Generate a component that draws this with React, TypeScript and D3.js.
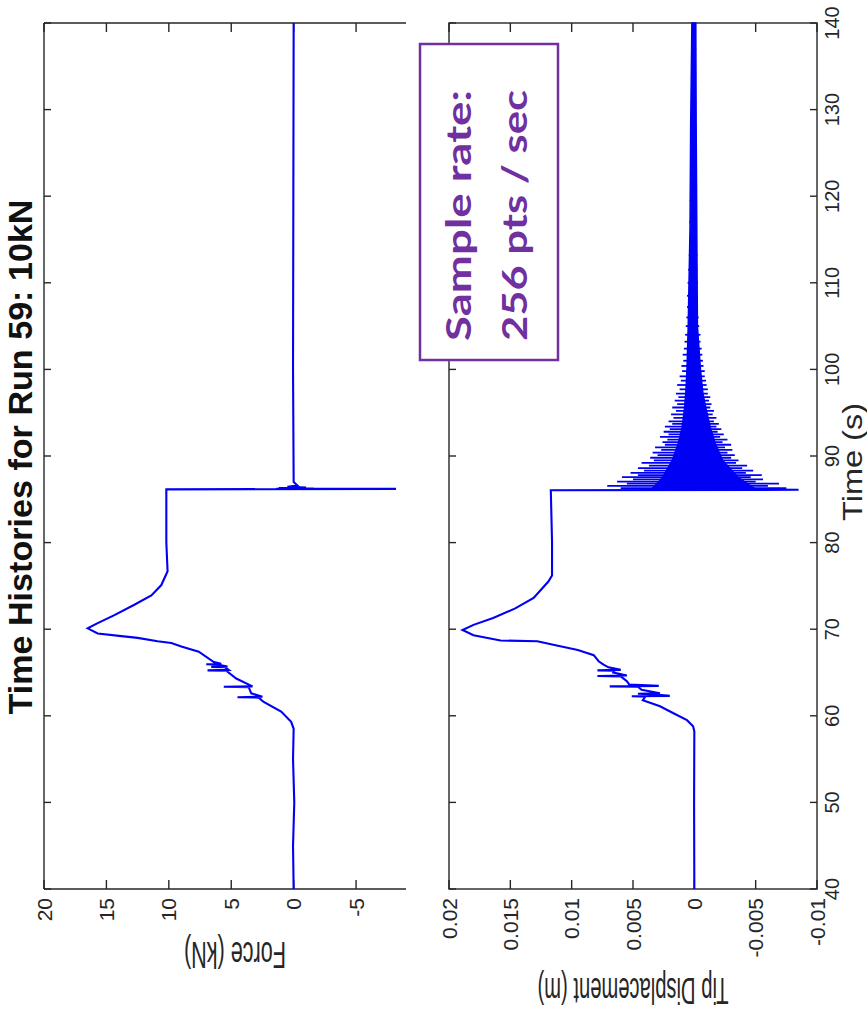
import React from 'react';
import * as d3 from 'd3';

// page size of the (rotated) figure
const W = 867;
const H = 1021;

// tick values
const timeTicks = [40, 50, 60, 70, 80, 90, 100, 110, 120, 130, 140];
const forceTicks = [-5, 0, 5, 10, 15, 20];
const dispTicks = [-0.01, -0.005, 0, 0.005, 0.01, 0.015, 0.02];
const dispTickLabels = ['-0.01', '-0.005', '0', '0.005', '0.01', '0.015', '0.02'];

// force history [time s, force kN]
const forceHistory: [number, number][] = [
  [40, 0], [45, 0.05], [50, -0.05], [55, 0.05], [58.5, 0], [59.3, 0.2], [60.5, 1.0],
  [61.6, 2.4], [62.1, 2.8], [62.15, 4.5], [62.2, 2.5], [62.6, 3.4], [63.3, 3.6],
  [63.35, 5.6], [63.4, 3.3], [64.3, 4.6], [65.2, 5.4], [65.25, 6.9], [65.3, 5.2],
  [65.6, 5.5], [65.65, 6.6], [65.7, 5.3], [65.9, 6.0], [65.95, 7.0], [66.0, 5.8],
  [66.2, 6.4], [67.4, 7.6], [68.0, 9.0], [68.4, 9.8], [68.6, 10.9], [69.0, 12.5],
  [69.2, 13.8], [69.5, 15.7], [70.1, 16.5], [70.7, 15.7], [71.6, 14.4], [72.8, 12.8],
  [73.9, 11.4], [75.1, 10.6], [76.7, 10.1], [80, 10.2], [86.15, 10.2], [86.2, -8.2],
  [86.22, 1.4], [86.25, -1.6], [86.3, 1.2], [86.35, -1.0], [86.45, 0.5], [86.6, -0.3],
  [87, 0], [100, 0.05], [140, 0],
];

// tip displacement history [time s, displacement mm]
const dispHistory: [number, number][] = [
  [40, 0], [50, 0.02], [58.2, 0], [58.8, 0.1], [59.5, 0.6], [60.3, 1.7], [61.1, 2.8],
  [61.8, 4.2], [62.2, 4.0], [62.25, 5.1], [62.3, 2.0], [62.5, 3.6], [62.55, 4.6],
  [62.6, 2.8], [63.0, 4.3], [63.35, 4.6], [63.4, 6.9], [63.45, 2.9], [63.6, 5.3],
  [64.0, 5.5], [64.55, 6.0], [64.6, 7.9], [64.65, 5.5], [65.0, 6.6], [65.2, 6.5],
  [65.25, 7.9], [65.3, 6.0], [65.6, 7.0], [65.9, 7.4], [66.3, 7.8], [67.0, 8.2],
  [67.6, 9.5], [68.2, 11.5], [68.6, 12.8], [68.7, 15.8], [69.3, 18.0], [69.9, 18.9],
  [70.5, 18.0], [71.3, 16.4], [72.4, 14.6], [73.6, 13.1], [75.5, 11.9], [76.2, 11.6],
  [80, 11.6], [86.05, 11.7], [86.1, -8.5], [86.15, 0], [140, 0],
];

// free vibration after release: peaks of each swing (mm)
const ringT = [86.3, 86.55, 86.8, 87.05, 87.3, 87.55, 87.8, 88.05, 88.3, 88.6, 88.9, 89.2,
  89.5, 89.8, 90.1, 90.4, 90.7, 91.0, 91.3, 91.6, 91.9, 92.2, 92.5, 92.8, 93.1, 93.4, 93.7,
  94.0, 94.4, 94.8, 95.2, 95.6, 96.0, 96.4, 96.8, 97.2, 97.7, 98.2, 98.7, 99.2, 99.8, 100.4,
  101.0, 101.7, 102.4, 103.2, 104.0, 105.0, 106.0, 107.2, 108.5, 110, 111.5, 113.2, 115,
  117, 119.5, 122, 125, 128, 131, 134, 137];
const ringHi = [6.0, 7.1, 5.5, 6.3, 5.0, 5.9, 4.6, 5.2, 4.1, 4.6, 3.7, 4.3, 3.3, 3.6, 3.0,
  3.4, 2.7, 3.2, 2.4, 2.6, 2.2, 2.8, 2.1, 2.5, 2.0, 2.4, 1.8, 2.1, 1.7, 1.9, 1.5, 1.8, 1.4,
  1.6, 1.3, 1.5, 1.2, 1.4, 1.1, 1.2, 1.0, 1.05, 0.9, 0.95, 0.85, 0.8, 0.75, 0.7, 0.65, 0.6,
  0.6, 0.55, 0.5, 0.45, 0.42, 0.4, 0.38, 0.34, 0.32, 0.3, 0.28, 0.26, 0.25];
const ringLo = [-7.5, -6.0, -6.9, -5.0, -5.6, -4.6, -5.5, -4.2, -4.8, -3.9, -4.3, -3.4, -3.6,
  -3.0, -3.3, -2.7, -3.1, -2.5, -3.0, -2.3, -2.7, -2.1, -2.4, -1.9, -2.2, -1.8, -2.0, -1.6,
  -1.8, -1.5, -1.6, -1.3, -1.4, -1.2, -1.3, -1.1, -1.1, -1.0, -0.95, -0.85, -0.85, -0.75,
  -0.7, -0.65, -0.6, -0.5, -0.5, -0.4, -0.35, -0.3, -0.3, -0.28, -0.25, -0.25, -0.22, -0.2,
  -0.2, -0.2, -0.18, -0.17, -0.15, -0.15, -0.15];

// dense core of the vibration band (mm)
const coreT = [86.15, 87.5, 89.5, 91.5, 93.3, 95.5, 97.2, 100, 105, 116.5, 128, 140];
const coreHi = [3.5, 2.6, 1.8, 1.3, 1.0, 0.8, 0.7, 0.6, 0.5, 0.35, 0.3, 0.2];
const coreLo = [-5.0, -3.6, -2.3, -1.7, -1.3, -0.95, -0.7, -0.5, -0.25, -0.2, -0.15, -0.12];

const FONT = '"Liberation Sans", Arial, Helvetica, sans-serif';
const AX = '#262626';
const BLUE = '#0000f4';

export default function App() {
  // drawn in the figure's own orientation, then turned a quarter turn
  const x = d3.scaleLinear().domain([40, 140]).range([132, 998]);
  const yF = d3.scaleLinear().domain([-9, 20]).range([406, 44]);
  const yD = d3.scaleLinear().domain([-0.01, 0.02]).range([817, 449]);

  const forceLine = d3.line<[number, number]>().x(d => x(d[0])).y(d => yF(d[1]));
  const dispLine = d3.line<[number, number]>().x(d => x(d[0])).y(d => yD(d[1] / 1000));
  const core = d3
    .area<number>()
    .x(i => x(coreT[i]))
    .y0(i => yD(coreLo[i] / 1000))
    .y1(i => yD(coreHi[i] / 1000));

  const tickLen = 7;
  const yTickLen = 9;
  const [x0, x1] = x.range();

  return (
    <svg
      width={W}
      height={H}
      style={{ position: 'absolute', left: 0, top: 0, background: '#fff' }}
    >
      <rect width={W} height={H} fill="#fff" />
      <g transform={`translate(0,${H}) rotate(-90)`} fontFamily={FONT} fill={AX}>
        {/* title */}
        <text x={564} y={32} textAnchor="middle" fontWeight="bold" fontSize={33} textLength={515} lengthAdjust="spacingAndGlyphs" fill="#111">
          Time Histories for Run 59: 10kN
        </text>

        {/* ---- top panel: force ---- */}
        <g stroke={AX} strokeWidth={1.4} fill="none">
          <line x1={x0} x2={x1} y1={44} y2={44} />
          <line x1={x0} x2={x0} y1={44} y2={406} />
          <line x1={x1} x2={x1} y1={44} y2={406} />
          {timeTicks.map(t => (
            <line key={t} x1={x(t)} x2={x(t)} y1={44} y2={44 + tickLen} />
          ))}
          {forceTicks.map(v => (
            <g key={v}>
              <line x1={x0} x2={x0 + yTickLen} y1={yF(v)} y2={yF(v)} />
              <line x1={x1} x2={x1 - yTickLen} y1={yF(v)} y2={yF(v)} />
            </g>
          ))}
        </g>
        {forceTicks.map(v => (
          <text key={v} x={123} y={yF(v)} dy="0.36em" textAnchor="end" fontSize={21}>
            {v}
          </text>
        ))}
        <text transform="translate(79,235) rotate(-90)" textAnchor="middle" fontSize={37} textLength={102} lengthAdjust="spacingAndGlyphs">
          Force (kN)
        </text>
        <path d={forceLine(forceHistory) || ''} fill="none" stroke={BLUE} strokeWidth={2.1} />

        {/* ---- bottom panel: tip displacement ---- */}
        <g stroke={AX} strokeWidth={1.4} fill="none">
          <rect x={x0} y={449} width={x1 - x0} height={817 - 449} />
          {timeTicks.map(t => (
            <g key={t}>
              <line x1={x(t)} x2={x(t)} y1={449} y2={449 + tickLen} />
              <line x1={x(t)} x2={x(t)} y1={817} y2={817 - tickLen} />
            </g>
          ))}
          {dispTicks.map(v => (
            <g key={v}>
              <line x1={x0} x2={x0 + yTickLen} y1={yD(v)} y2={yD(v)} />
              <line x1={x1} x2={x1 - yTickLen} y1={yD(v)} y2={yD(v)} />
            </g>
          ))}
        </g>
        {dispTicks.map((v, i) => (
          <text key={v} x={123} y={yD(v)} dy="0.36em" textAnchor="end" fontSize={21}>
            {dispTickLabels[i]}
          </text>
        ))}
        {timeTicks.map(t => (
          <text key={t} x={x(t)} y={839} textAnchor="middle" fontSize={20}>
            {t}
          </text>
        ))}
        <text x={559} y={862} textAnchor="middle" fontSize={27} textLength={118} lengthAdjust="spacingAndGlyphs">
          Time (s)
        </text>
        <text transform="translate(43,633) rotate(-90)" textAnchor="middle" fontSize={37} textLength={191} lengthAdjust="spacingAndGlyphs">
          Tip Displacement (m)
        </text>

        <path d={core(d3.range(coreT.length)) || ''} fill={BLUE} stroke={BLUE} strokeWidth={1.5} />
        {ringT.map((t, i) => (
          <path
            key={t}
            d={dispLine([[t, ringLo[i]], [t, ringHi[i]]]) || ''}
            stroke={BLUE}
            strokeWidth={1.8}
          />
        ))}
        <path d={dispLine(dispHistory) || ''} fill="none" stroke={BLUE} strokeWidth={2.1} />

        {/* annotation */}
        <rect x={661} y={420} width={316} height={138} fill="#fff" stroke="#7030a0" strokeWidth={2.5} />
        <g fontFamily='Lato, "Open Sans", sans-serif' fontWeight="bold" fill="#7030a0" fontSize={35}>
          <text x={680} y={471} textLength={251} lengthAdjust="spacingAndGlyphs">Sample rate:</text>
          <text x={680} y={527} textLength={251} lengthAdjust="spacingAndGlyphs">256 pts / sec</text>
        </g>
      </g>
    </svg>
  );
}
